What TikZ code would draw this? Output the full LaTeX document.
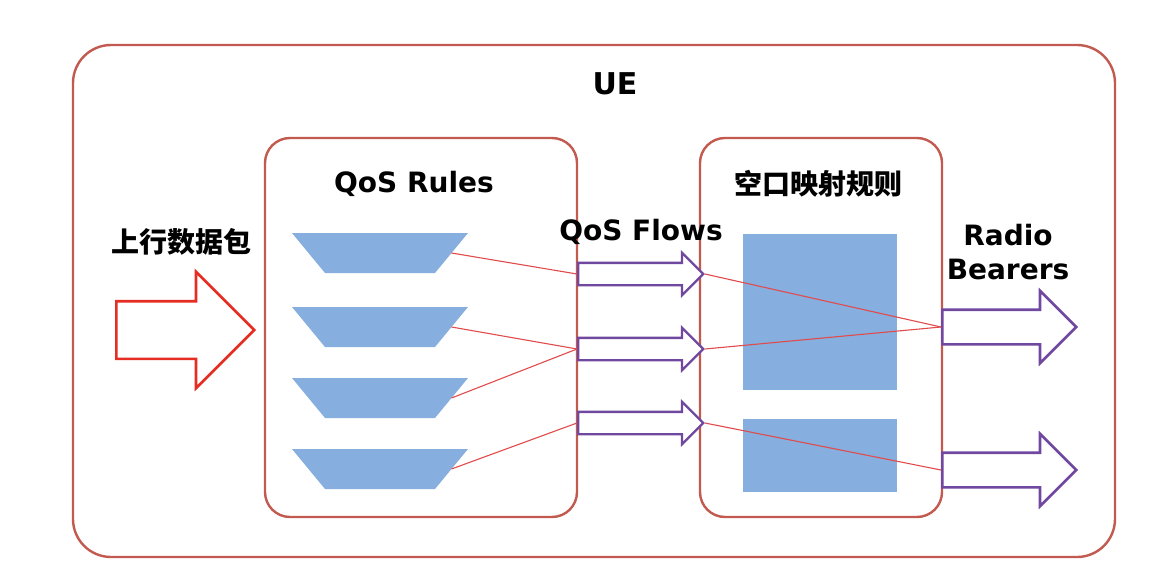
\documentclass[tikz,border=0pt]{standalone}
\usepackage{fontspec}
\setmainfont{DejaVu Sans}
\newfontfamily\cjk{Noto Sans CJK SC}
\usetikzlibrary{shapes.geometric,shapes.arrows}
\definecolor{boxred}{RGB}{195,90,80}
\definecolor{qblue}{RGB}{134,174,222}
\definecolor{purp}{RGB}{112,72,160}
\definecolor{linered}{RGB}{225,75,75}
\definecolor{arrred}{RGB}{230,45,35}
\tikzset{
  frame/.style={draw=boxred, line width=2.4pt, rounded corners=#1, inner sep=0pt},
  lbl/.style={font=\bfseries\fontsize{28}{34}\selectfont, inner sep=0pt, align=center},
  cjklbl/.style={font=\cjk\bfseries\fontsize{28}{34}\selectfont, inner sep=0pt},
  rulepic/.pic={
    \fill[qblue] (-88,-20) -- (88,-20) -- (55,20) -- (-55,20) -- cycle;
    \coordinate (-east) at (71.5,0);
  },
  maprect/.style={rectangle, fill=qblue, inner sep=0pt},
  flowarrow/.style={single arrow, draw=purp, fill=white, line width=2.4pt,
    inner xsep=0pt, inner ysep=10pt, text height=0pt, text depth=0pt, minimum width=0pt,
    minimum height=125pt, single arrow head extend=10pt, single arrow tip angle=90, anchor=west},
  rbarrow/.style={single arrow, draw=purp, fill=white, line width=2.6pt,
    inner xsep=0pt, inner ysep=16pt, text height=0pt, text depth=0pt, minimum width=0pt,
    minimum height=134pt, single arrow head extend=19pt, single arrow tip angle=90, anchor=west},
  inarrow/.style={single arrow, draw=arrred, fill=white, line width=2.6pt,
    inner xsep=0pt, inner ysep=27.5pt, text height=0pt, text depth=0pt, minimum width=0pt,
    minimum height=138pt, single arrow head extend=29.5pt, single arrow tip angle=90, anchor=west},
  map/.style={draw=linered, line width=1.1pt}
}
\begin{document}
\begin{tikzpicture}[x=1pt,y=-1pt]
\useasboundingbox (0,0) rectangle (1173,583);
\fill[white] (0,0) rectangle (1173,583);
% frames
\node[frame=38pt, minimum width=1042pt, minimum height=512pt] (ue) at (594,301) {};
\node[frame=25pt, minimum width=312pt, minimum height=379pt] (rules) at (421,327.5) {};
\node[frame=25pt, minimum width=242pt, minimum height=379pt] (mapbox) at (821,327.5) {};
% titles
\node[lbl, font=\bfseries\fontsize{30}{36}\selectfont] (uet) at (615,84) {UE};
\node[lbl] (rt) at (414,184) {QoS Rules};
\node[cjklbl] (mt) at (818,184) {空口映射规则};
\node[cjklbl] (ult) at (181,242) {上行数据包};
\node[lbl] (qft) at (641,232) {QoS Flows};
\node[lbl] (rbt) at (1008,252) {Radio\\Bearers};
% blue shapes
\node[maprect, minimum width=154pt, minimum height=156pt] (m1) at (820,312) {};
\node[maprect, minimum width=154pt, minimum height=73pt] (m2) at (820,455.5) {};
\pic (t1) at (380,253) {rulepic};
\pic (t2) at (380,327) {rulepic};
\pic (t3) at (380,398) {rulepic};
\pic (t4) at (380,469) {rulepic};
% arrows
\node[inarrow] (in) at (115,330) {};
\node[flowarrow] (f1) at (577,274) {};
\node[flowarrow] (f2) at (577,349) {};
\node[flowarrow] (f3) at (577,423) {};
\node[rbarrow] (r1) at (941,327) {};
\node[rbarrow] (r2) at (941,470) {};
% mapping lines
\draw[map] (t1-east) -- (f1.west);
\draw[map] (t2-east) -- (f2.west);
\draw[map] (t3-east) -- (f2.west);
\draw[map] (t4-east) -- (f3.west);
\draw[map] (f1.tip) -- (r1.west);
\draw[map] (f2.tip) -- (r1.west);
\draw[map] (f3.tip) -- (r2.west);
\end{tikzpicture}
\end{document}
